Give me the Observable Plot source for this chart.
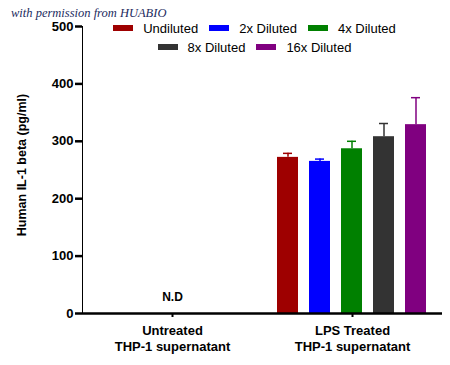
<!DOCTYPE html>
<html>
<head>
<meta charset="utf-8">
<script src="https://cdn.jsdelivr.net/npm/d3@7"></script>
<script src="https://cdn.jsdelivr.net/npm/@observablehq/plot@0.6"></script>
<style>
  html, body { margin: 0; padding: 0; background: #fff; }
  #wrap { position: relative; width: 450px; height: 365px; overflow: hidden; font-family: "Liberation Sans", Arial, sans-serif; }
  #chart { position: absolute; left: 0; top: 0; }
  #watermark { position: absolute; left: 11px; top: 6px; font-family: "Liberation Serif", "DejaVu Serif", serif; font-style: italic; font-size: 12.5px; color: #1c2b5e; white-space: nowrap; }
  #ylabel { position: absolute; left: 22px; top: 165px; transform: translate(-50%, -50%) rotate(-90deg); font-size: 12.5px; font-weight: bold; white-space: nowrap; color: #000; }
  #legend { position: absolute; left: 74px; top: 18.5px; width: 361px; display: flex; flex-wrap: wrap; justify-content: center; row-gap: 0; column-gap: 11px; font-size: 13px; color: #000; }
  .item { display: flex; align-items: center; height: 19px; line-height: 19px; }
  .sw { width: 20px; height: 6px; margin-right: 10px; }
  .brk { flex-basis: 100%; height: 0; }
  #chart [aria-label*="y-axis"] line, #chart [aria-label*="y-axis"] path { stroke: #000; stroke-width: 2.5px; stroke-opacity: 1; }
  #chart [aria-label*="fx-axis"] line, #chart [aria-label*="fx-axis"] path { stroke: #000; stroke-width: 2px; }
</style>
</head>
<body>
<div id="wrap">
  <div id="chart"></div>
  <div id="watermark">with permission from HUABIO</div>
  <div id="ylabel">Human IL-1 beta (pg/ml)</div>
  <div id="legend"></div>
</div>
<script>
const groups = ["Untreated\nTHP-1 supernatant", "LPS Treated\nTHP-1 supernatant"];
const dilutions = ["Undiluted", "2x Diluted", "4x Diluted", "8x Diluted", "16x Diluted"];
const colors = ["#9e0000", "#0000ff", "#008000", "#333333", "#800080"];
const lpsMeans = [272, 265, 287, 308, 329];
const lpsErrors = [7, 4, 13, 23, 47];
const notDetected = "N.D";
const yTicks = [0, 100, 200, 300, 400, 500];

const rows = dilutions.map((d, i) => ({group: groups[1], dilution: d, mean: lpsMeans[i], err: lpsErrors[i]}));
const ndRows = [{group: groups[0], value: 0, label: notDetected}];

const plot = Plot.plot({
  width: 450,
  height: 365,
  marginLeft: 81,
  marginRight: 8,
  marginTop: 26,
  marginBottom: 52,
  style: {fontFamily: "'Liberation Sans', Arial, sans-serif", fontSize: "13px", fontWeight: "bold", color: "#000", background: "transparent"},
  fx: {domain: groups, padding: 0, label: null, tickFormat: () => "", tickSize: 4, tickPadding: 0},
  x: {domain: dilutions, axis: null, paddingInner: 1/3, paddingOuter: 0.4},
  y: {domain: [0, 500], ticks: yTicks, tickSize: 7, tickPadding: 2, line: true, label: null},
  color: {domain: dilutions, range: colors},
  marks: [
    Plot.barY(rows, {fx: "group", x: "dilution", y: "mean", fill: "dilution"}),
    Plot.ruleX(rows, {fx: "group", x: "dilution", y1: "mean", y2: d => d.mean + d.err, stroke: "dilution", strokeWidth: 1.5}),
    Plot.tickY(rows, {fx: "group", x: "dilution", y: d => d.mean + d.err, stroke: "dilution", strokeWidth: 1.5, insetLeft: 6, insetRight: 6}),
    Plot.text(ndRows, {fx: "group", y: "value", text: "label", dy: -16, fontWeight: "bold", fontSize: 12, fill: "#000"}),
    Plot.text(groups, {fx: d => d, text: d => d, frameAnchor: "bottom", lineAnchor: "top", dy: 10, lineHeight: 1.23, fontWeight: "bold", fontSize: 13, fill: "#000"}),
    Plot.ruleY([0], {stroke: "#000", strokeWidth: 2.5})
  ]
});
document.getElementById("chart").appendChild(plot);

const legend = document.getElementById("legend");
dilutions.forEach((d, i) => {
  if (i === 3) { const b = document.createElement("div"); b.className = "brk"; legend.appendChild(b); }
  const it = document.createElement("div");
  it.className = "item";
  const sw = document.createElement("span");
  sw.className = "sw";
  sw.style.background = colors[i];
  const tx = document.createElement("span");
  tx.textContent = d;
  it.appendChild(sw); it.appendChild(tx);
  legend.appendChild(it);
});
</script>
</body>
</html>
